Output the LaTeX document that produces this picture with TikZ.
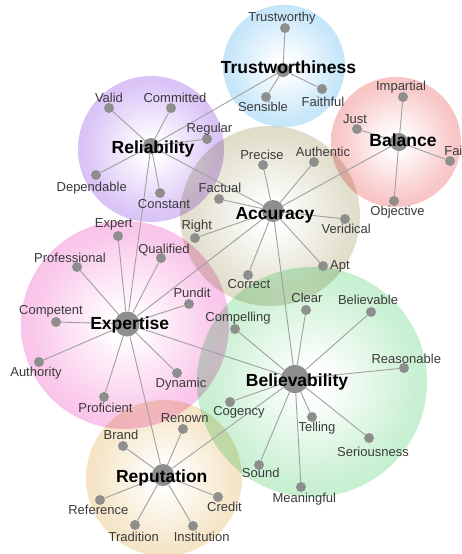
\documentclass[tikz,border=0pt]{standalone}
\usepackage{fontspec}
\setmainfont{Liberation Sans}
\usetikzlibrary{positioning}

% colours of the bubbles
\definecolor{trustblue}{HTML}{A2D6F6}
\definecolor{reliviolet}{HTML}{C29EF2}
\definecolor{balred}{HTML}{F4A0A0}
\definecolor{acckhaki}{HTML}{CDC9AA}
\definecolor{exppink}{HTML}{F6A0DC}
\definecolor{belgreen}{HTML}{A4E6B4}
\definecolor{reptan}{HTML}{EED4A2}
\definecolor{dotgray}{HTML}{8E8E8E}
\definecolor{linegray}{HTML}{A0A0A0}
\definecolor{wordgray}{HTML}{3A3A3A}

\pgfdeclareradialshading[bubblecol]{bubble}{\pgfpoint{0bp}{0bp}}{color(0bp)=(white); color(3bp)=(white); color(22bp)=(bubblecol!58); color(50bp)=(bubblecol)}

\tikzset{
  bubble/.style={/utils/exec={\colorlet{bubblecol}{#1}}, shade, shading=bubble},
  dot/.style={circle, fill=dotgray, inner sep=0pt, minimum size=10pt},
  hub/.style={circle, fill=dotgray, inner sep=0pt, minimum size=#1},
  word/.style={anchor=base, inner sep=0pt, text=wordgray, font=\fontsize{13}{15}\selectfont},
  title/.style={anchor=base, inner sep=0pt, text=black, font=\fontsize{17.5}{20}\selectfont\bfseries},
  link/.style={draw=linegray, line width=0.9pt}
}

\begin{document}
\begin{tikzpicture}[x=1pt, y=-1pt]

  \useasboundingbox (0,0) rectangle (462,554);
  \clip (0,0) rectangle (462,554);

  % Draw the bubbles
  \begin{scope}[blend mode=multiply]
    \path[bubble=trustblue] (284,66) circle (61);
    \path[bubble=reliviolet] (151,149) circle (73);
    \path[bubble=balred] (396,142) circle (65);
    \path[bubble=acckhaki] (270,216) circle (90);
    \path[bubble=exppink] (125,325) circle (104);
    \path[bubble=belgreen] (312,382) circle (115);
    \path[bubble=reptan] (164,478) circle (78);
  \end{scope}

  % Hubs
  \node[hub=14pt] (trust) at (283,70) {};
  \node[hub=16pt] (reli) at (151,146) {};
  \node[hub=18pt] (bal) at (399,142) {};
  \node[hub=22pt] (acc) at (273,211) {};
  \node[hub=25pt] (exp) at (127,324) {};
  \node[hub=28pt] (bel) at (295,379) {};
  \node[hub=22pt] (rep) at (163,475) {};

  % Trustworthiness dots
  \node[dot] (trustworthy) at (285,28) {};
  \node[dot] (sensible) at (266,97) {};
  \node[dot] (faithful) at (322,89) {};

  % Reliability dots
  \node[dot] (valid) at (109,108) {};
  \node[dot] (committed) at (171,108) {};
  \node[dot] (regular) at (207,139) {};
  \node[dot] (dependable) at (96,175) {};
  \node[dot] (constant) at (160,193) {};

  % Balance dots
  \node[dot] (impartial) at (403,97) {};
  \node[dot] (just) at (357,129) {};
  \node[dot] (fair) at (450,161) {};
  \node[dot] (objective) at (394,201) {};

  % Accuracy dots
  \node[dot] (precise) at (263,165) {};
  \node[dot] (authentic) at (314,162) {};
  \node[dot] (factual) at (219,199) {};
  \node[dot] (right) at (195,238) {};
  \node[dot] (veridical) at (345,219) {};
  \node[dot] (apt) at (323,266) {};
  \node[dot] (correct) at (248,275) {};

  % Expertise dots
  \node[dot] (expert) at (118,236) {};
  \node[dot] (qualified) at (161,258) {};
  \node[dot] (professional) at (77,267) {};
  \node[dot] (pundit) at (189,304) {};
  \node[dot] (competent) at (56,322) {};
  \node[dot] (authority) at (39,362) {};
  \node[dot] (proficient) at (104,397) {};
  \node[dot] (dynamic) at (177,373) {};

  % Believability dots
  \node[dot] (clear) at (306,310) {};
  \node[dot] (believable) at (371,312) {};
  \node[dot] (compelling) at (235,329) {};
  \node[dot] (reasonable) at (404,368) {};
  \node[dot] (cogency) at (230,402) {};
  \node[dot] (telling) at (312,417) {};
  \node[dot] (seriousness) at (369,438) {};
  \node[dot] (sound) at (259,465) {};
  \node[dot] (meaningful) at (301,487) {};

  % Reputation dots
  \node[dot] (brand) at (123,446) {};
  \node[dot] (renown) at (183,429) {};
  \node[dot] (reference) at (100,500) {};
  \node[dot] (credit) at (218,497) {};
  \node[dot] (tradition) at (135,525) {};
  \node[dot] (institution) at (193,526) {};

  % Draw the links between hubs
  \draw[link] (trust) -- (reli);
  \draw[link] (reli) -- (acc);
  \draw[link] (reli) -- (exp);
  \draw[link] (bal) -- (acc);
  \draw[link] (acc) -- (exp);
  \draw[link] (acc) -- (bel);
  \draw[link] (exp) -- (bel);
  \draw[link] (exp) -- (rep);
  \draw[link] (bel) -- (rep);

  % Draw the links to the dots
  \draw[link] (trust) -- (trustworthy);
  \draw[link] (trust) -- (sensible);
  \draw[link] (trust) -- (faithful);

  \draw[link] (reli) -- (valid);
  \draw[link] (reli) -- (committed);
  \draw[link] (reli) -- (regular);
  \draw[link] (reli) -- (dependable);
  \draw[link] (reli) -- (constant);

  \draw[link] (bal) -- (impartial);
  \draw[link] (bal) -- (just);
  \draw[link] (bal) -- (fair);
  \draw[link] (bal) -- (objective);

  \draw[link] (acc) -- (precise);
  \draw[link] (acc) -- (authentic);
  \draw[link] (acc) -- (factual);
  \draw[link] (acc) -- (right);
  \draw[link] (acc) -- (veridical);
  \draw[link] (acc) -- (apt);
  \draw[link] (acc) -- (correct);

  \draw[link] (exp) -- (expert);
  \draw[link] (exp) -- (qualified);
  \draw[link] (exp) -- (professional);
  \draw[link] (exp) -- (pundit);
  \draw[link] (exp) -- (competent);
  \draw[link] (exp) -- (authority);
  \draw[link] (exp) -- (proficient);
  \draw[link] (exp) -- (dynamic);

  \draw[link] (bel) -- (clear);
  \draw[link] (bel) -- (believable);
  \draw[link] (bel) -- (compelling);
  \draw[link] (bel) -- (reasonable);
  \draw[link] (bel) -- (cogency);
  \draw[link] (bel) -- (telling);
  \draw[link] (bel) -- (seriousness);
  \draw[link] (bel) -- (sound);
  \draw[link] (bel) -- (meaningful);

  \draw[link] (rep) -- (brand);
  \draw[link] (rep) -- (renown);
  \draw[link] (rep) -- (reference);
  \draw[link] (rep) -- (credit);
  \draw[link] (rep) -- (tradition);
  \draw[link] (rep) -- (institution);

  % Hub titles
  \node[title] (trust-t) at (288.5,73.3) {Trustworthiness};
  \node[title] (reli-t) at (153,153.3) {Reliability};
  \node[title] (bal-t) at (403,146) {Balance};
  \node[title] (acc-t) at (275,219.3) {Accuracy};
  \node[title] (exp-t) at (129.7,329.3) {Expertise};
  \node[title] (bel-t) at (297,386) {Believability};
  \node[title] (rep-t) at (161.7,482) {Reputation};

  % Dot words
  \node[word] (trustworthy-t) at (282,21) {Trustworthy};
  \node[word] (sensible-t) at (263,111.7) {Sensible};
  \node[word] (faithful-t) at (323,106) {Faithful};

  \node[word] (valid-t) at (109,102.7) {Valid};
  \node[word] (committed-t) at (175,102.7) {Committed};
  \node[word] (regular-t) at (209.5,132) {Regular};
  \node[word] (dependable-t) at (91.7,191) {Dependable};
  \node[word] (constant-t) at (164,208.7) {Constant};

  \node[word] (impartial-t) at (401,90.5) {Impartial};
  \node[word] (just-t) at (355,123.3) {Just};
  \node[word] (fair-t) at (455.5,155.3) {Fair};
  \node[word] (objective-t) at (397.5,215.3) {Objective};

  \node[word] (precise-t) at (262,159.3) {Precise};
  \node[word] (authentic-t) at (323,156) {Authentic};
  \node[word] (factual-t) at (220,192) {Factual};
  \node[word] (right-t) at (196.7,229.3) {Right};
  \node[word] (veridical-t) at (346.3,233.3) {Veridical};
  \node[word] (apt-t) at (340,269.3) {Apt};
  \node[word] (correct-t) at (249,288.7) {Correct};

  \node[word] (expert-t) at (113.7,227.7) {Expert};
  \node[word] (qualified-t) at (164,253.3) {Qualified};
  \node[word] (professional-t) at (70,262) {Professional};
  \node[word] (pundit-t) at (192,297.7) {Pundit};
  \node[word] (competent-t) at (51,314.3) {Competent};
  \node[word] (authority-t) at (36,376.7) {Authority};
  \node[word] (proficient-t) at (105.5,412) {Proficient};
  \node[word] (dynamic-t) at (181,387.7) {Dynamic};

  \node[word] (clear-t) at (307,302) {Clear};
  \node[word] (believable-t) at (368,304.3) {Believable};
  \node[word] (compelling-t) at (238,321) {Compelling};
  \node[word] (reasonable-t) at (406.3,363.7) {Reasonable};
  \node[word] (cogency-t) at (239,415.3) {Cogency};
  \node[word] (telling-t) at (317,431) {Telling};
  \node[word] (seriousness-t) at (373,456) {Seriousness};
  \node[word] (sound-t) at (260.7,477.7) {Sound};
  \node[word] (meaningful-t) at (304.3,502) {Meaningful};

  \node[word] (brand-t) at (121,439.3) {Brand};
  \node[word] (renown-t) at (184.7,422.7) {Renown};
  \node[word] (reference-t) at (98.3,514.3) {Reference};
  \node[word] (credit-t) at (224.5,511) {Credit};
  \node[word] (tradition-t) at (133.7,541) {Tradition};
  \node[word] (institution-t) at (201.7,541) {Institution};

\end{tikzpicture}
\end{document}
